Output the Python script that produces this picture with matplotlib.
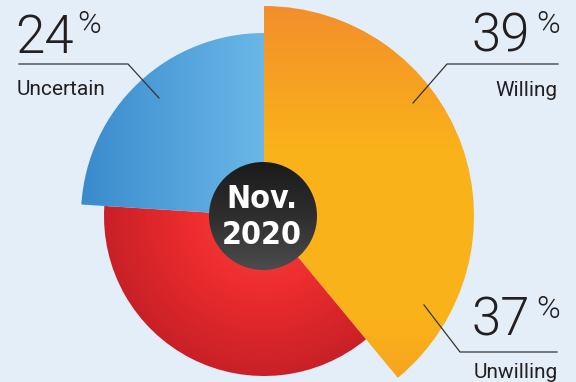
#!/usr/bin/env python3

import numpy as np
import matplotlib
matplotlib.use('Agg')
import matplotlib.pyplot as plt
from matplotlib import font_manager as fm
from matplotlib.font_manager import FontProperties
from matplotlib.patches import Wedge, Circle
from matplotlib.colors import LinearSegmentedColormap

# data
labels = ['Willing', 'Unwilling', 'Uncertain']
values = [39, 37, 24]
date_text = 'Nov.\n2020'

# style (radius of each slice, gradient stops)
radii = [210, 160, 183]
grad_kind = ['vertical', 'radial', 'horizontal']
grad_stops = [
    [(0.0, '#F38F2B'), (0.35, '#FAB31A'), (0.75, '#FAB21A'), (1.0, '#F59921')],
    [(0.0, '#F24444'), (0.45, '#EE2D2E'), (1.0, '#C92028')],
    [(0.0, '#3A8BCD'), (1.0, '#6AB7E7')],
]
bg = '#E4EEF8'
ink = '#231F20'

W, H = 576, 382
cx, cy = 264, H - 216


def wnum(w):
    try:
        return int(w)
    except (TypeError, ValueError):
        return {'light': 300, 'normal': 400, 'regular': 400, 'medium': 500,
                'semibold': 600, 'bold': 700, 'heavy': 800,
                'black': 900}.get(str(w).lower(), 400)


def pick_font(families, weight, narrow=False):
    for fam in families:
        for f in fm.fontManager.ttflist:
            if f.name != fam or f.style != 'normal':
                continue
            if narrow and not ('Narrow' in f.name or 'Condensed' in f.name
                               or 'condensed' in str(f.stretch)):
                continue
            if abs(wnum(f.weight) - weight) <= 50:
                return f.fname
    return None


cond_path = pick_font(['Liberation Sans Narrow', 'DejaVu Sans', 'Roboto Condensed',
                       'Noto Sans', 'Open Sans'], 700, narrow=True)
light_path = pick_font(['Roboto', 'Lato', 'Open Sans', 'Inter', 'Noto Sans'], 300)


def fp(path, size, fallback_weight='normal'):
    if path:
        return FontProperties(fname=path, size=size)
    return FontProperties(family='Roboto', weight=fallback_weight, size=size)


fig = plt.figure(figsize=(W / 100, H / 100), dpi=100)
fig.patch.set_facecolor(bg)
ax = fig.add_axes([0, 0, 1, 1])
ax.set_xlim(0, W)
ax.set_ylim(0, H)
ax.set_aspect('equal')
ax.axis('off')


def gradient_fill(patch, kind, stops, r):
    cmap = LinearSegmentedColormap.from_list('g', stops)
    n = 300
    xs = np.linspace(cx - r, cx + r, n)
    ys = np.linspace(cy - r, cy + r, n)
    X, Y = np.meshgrid(xs, ys)
    if kind == 'vertical':
        t = ((cy + r) - Y) / (2 * r)
    elif kind == 'horizontal':
        t = (X - (cx - r)) / r
    else:
        t = np.hypot(X - cx, Y - cy) / r
    t = np.clip(t, 0, 1)
    im = ax.imshow(t, cmap=cmap, vmin=0, vmax=1, origin='lower',
                   extent=(cx - r, cx + r, cy - r, cy + r),
                   interpolation='bilinear', zorder=2)
    im.set_clip_path(patch)


# slices go clockwise from 12 o'clock
ends = 90 - 3.6 * np.cumsum([0] + values)
for i, v in enumerate(values):
    w = Wedge((cx, cy), radii[i], ends[i + 1], ends[i], facecolor='none',
              edgecolor='none', zorder=2)
    ax.add_patch(w)
    gradient_fill(w, grad_kind[i], grad_stops[i], radii[i])

# center disc
disc = Circle((263, H - 216), 54, facecolor='none', edgecolor='none', zorder=3)
ax.add_patch(disc)
cm = LinearSegmentedColormap.from_list('d', ['#1B1B1B', '#2E2E2E', '#4C4C4C'])
yy = np.linspace(0, 1, 200)[:, None] * np.ones((1, 200))
im = ax.imshow(yy, cmap=cm, origin='upper',
               extent=(263 - 54, 263 + 54, H - 216 - 54, H - 216 + 54),
               interpolation='bilinear', zorder=3)
im.set_clip_path(disc)

d1, d2 = date_text.split('\n')
date_fp = fp(cond_path, 23 if cond_path else 19, 'bold')
ax.text(262, H - 208, d1, ha='center', va='baseline', color='white',
        fontproperties=date_fp, zorder=4)
ax.text(262, H - 244, d2, ha='center', va='baseline', color='white',
        fontproperties=date_fp, zorder=4)

# callouts
num_fp = fp(light_path, 38)
pct_fp = fp(light_path, 23)
lab_fp = FontProperties(family=['Roboto', 'DejaVu Sans'], size=15)
lc = '#333333'

# Uncertain (left)
ax.text(15, H - 53, '%d' % values[2], ha='left', va='baseline', color=ink, fontproperties=num_fp)
ax.text(77, H - 33, '%', ha='left', va='baseline', color=ink, fontproperties=pct_fp)
ax.text(17, H - 95, labels[2], ha='left', va='baseline', color=ink, fontproperties=lab_fp)
ax.plot([19, 128, 159], [H - 64, H - 64, H - 98], color=lc, lw=0.9, zorder=5)

# Willing (top right)
ax.text(530, H - 52, '%d' % values[0], ha='right', va='baseline', color=ink, fontproperties=num_fp)
ax.text(560, H - 33, '%', ha='right', va='baseline', color=ink, fontproperties=pct_fp)
ax.text(558, H - 96, labels[0], ha='right', va='baseline', color=ink, fontproperties=lab_fp)
ax.plot([558, 447, 413], [H - 64, H - 64, H - 103], color=lc, lw=0.9, zorder=5)

# Unwilling (bottom right)
ax.text(530, H - 335, '%d' % values[1], ha='right', va='baseline', color=ink, fontproperties=num_fp)
ax.text(560, H - 318, '%', ha='right', va='baseline', color=ink, fontproperties=pct_fp)
ax.text(558, H - 378, labels[1], ha='right', va='baseline', color=ink, fontproperties=lab_fp)
ax.plot([424, 460, 557], [H - 305, H - 352, H - 352], color=lc, lw=0.9, zorder=5)

fig.savefig('out.png', dpi=100, facecolor=bg)
plt.close(fig)
